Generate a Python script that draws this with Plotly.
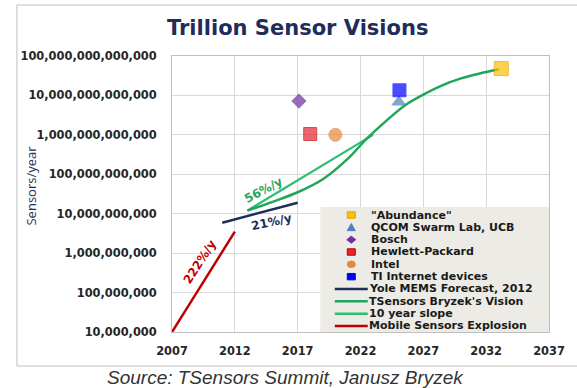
import math
import plotly.graph_objects as go

# ---------------- data ----------------
mobile_years = [2007, 2012]
mobile_vals = [1e7, 3.5e9]

yole_years = [2011, 2017]
yole_vals = [5.9e9, 1.9e10]

slope_years = [2013, 2023]
slope_vals = [1.2e10, 1.0e12]

vision_years = [2013.0, 2015.0, 2017.0, 2019.0, 2021.0, 2022.5, 2024.0, 2025.5,
                2027.0, 2028.5, 2030.0, 2031.5, 2033.0]
vision_vals = [1.2e10, 2.0e10, 3.5e10, 7.5e10, 2.5e11, 8.0e11, 2.2e12, 5.5e12,
               1.05e13, 1.8e13, 2.7e13, 3.6e13, 4.6e13]

point_names = ['"Abundance"', "QCOM Swarm Lab, UCB", "Bosch", "Hewlett-Packard",
               "Intel", "TI Internet devices"]
point_years = [2033.2, 2025.05, 2017.1, 2018.0, 2020.0, 2025.1]
point_vals = [4.8e13, 6.8e12, 7.2e12, 1.05e12, 1.0e12, 1.35e13]

line_names = ["Yole MEMS Forecast, 2012", "TSensors Bryzek's Vision",
              "10 year slope", "Mobile Sensors Explosion"]

x_ticks = [2007, 2012, 2017, 2022, 2027, 2032, 2037]
x_ticklabels = ["2007", "2012", "2017", "2022", "2027", "2032", "2037"]
y_ticks = [1e7, 1e8, 1e9, 1e10, 1e11, 1e12, 1e13, 1e14]
y_ticklabels = ["10,000,000", "100,000,000", "1,000,000,000", "10,000,000,000",
                "100,000,000,000", "1,000,000,000,000", "10,000,000,000,000",
                "100,000,000,000,000"]

rate_labels = ["56%/y", "21%/y", "222%/y"]
rate_years = [2014.3, 2014.9, 2009.2]
rate_vals = [4.0e10, 6.2e9, 6.0e8]

# ---------------- styles ----------------
point_colors = ["#FFC000", "#4F81BD", "#7030A0", "#E3262E", "#E8883A", "#0000FF"]
point_lines = ["#E0A000", "#4F81BD", "#7030A0", "#C00000", "#E8883A", "#0000FF"]
point_symbols = ["square", "triangle-up", "diamond", "square", "circle", "square"]
point_sizes = [14, 12, 11, 13, 13, 13]

NAVY = "#1F2D5A"
GREEN1 = "#1FA65A"
GREEN2 = "#2DBF74"
RED = "#C00000"
line_colors = [NAVY, GREEN1, GREEN2, RED]
rate_colors = [GREEN1, NAVY, RED]
rate_angles = [-28, -12, -57]

BOLD = dict(family="DejaVu Sans", weight="bold")

fig = go.Figure()
fig.add_trace(go.Scatter(x=mobile_years, y=mobile_vals, mode="lines",
                         line=dict(color=RED, width=2.5), name=line_names[3]))
fig.add_trace(go.Scatter(x=yole_years, y=yole_vals, mode="lines",
                         line=dict(color=NAVY, width=2.5), name=line_names[0]))
fig.add_trace(go.Scatter(x=slope_years, y=slope_vals, mode="lines",
                         line=dict(color=GREEN2, width=2.2), name=line_names[2]))
fig.add_trace(go.Scatter(x=vision_years, y=vision_vals, mode="lines",
                         line=dict(color=GREEN1, width=2.5, shape="spline", smoothing=1.0),
                         name=line_names[1]))
fig.add_trace(go.Scatter(x=point_years, y=point_vals, mode="markers",
                         marker=dict(color=point_colors, symbol=point_symbols,
                                     size=point_sizes,
                                     line=dict(color=point_lines, width=1)),
                         text=point_names))

# pixel -> paper helpers (layout only)
L, R, T, B = 172, 561, 56, 332
def px(v):
    return (v - L) / (R - L)
def py(v):
    return (B - v) / (B - T)

shapes = []
annotations = []

# outer frame
shapes.append(dict(type="rect", xref="paper", yref="paper", x0=px(12), x1=px(600),
                   y0=py(366), y1=py(5), line=dict(color="#BFBFBF", width=1),
                   fillcolor="rgba(0,0,0,0)", layer="below"))

# legend box
shapes.append(dict(type="rect", xref="paper", yref="paper", x0=px(325), x1=1.0,
                   y0=0.0, y1=py(207), line=dict(width=0), fillcolor="#EDEBE5",
                   layer="above"))

row0, rowstep = 215, 12.33
mx = px(357)
for i, name in enumerate(point_names):
    yy = py(row0 + rowstep * i)
    sym = point_symbols[i]
    base = dict(xref="paper", yref="paper", xsizemode="pixel", ysizemode="pixel",
                xanchor=mx, yanchor=yy, fillcolor=point_colors[i],
                line=dict(color=point_lines[i], width=1), layer="above")
    if sym == "square":
        shapes.append(dict(type="rect", x0=-4, x1=4, y0=-3.2, y1=3.2, **base))
    elif sym == "circle":
        shapes.append(dict(type="circle", x0=-4, x1=4, y0=-3.3, y1=3.3, **base))
    elif sym == "diamond":
        shapes.append(dict(type="path", path="M-4.5,0 L0,3.5 L4.5,0 L0,-3.5 Z", **base))
    elif sym == "triangle-up":
        shapes.append(dict(type="path", path="M-4,-3.3 L4,-3.3 L0,3.8 Z", **base))
    annotations.append(dict(xref="paper", yref="paper", x=px(375), y=yy, text=name,
                            showarrow=False, xanchor="left", yanchor="middle",
                            font=dict(size=11, color="#1A1A1A", **BOLD)))

for j, name in enumerate(line_names):
    yy = py(row0 + rowstep * (6 + j))
    shapes.append(dict(type="line", xref="paper", yref="paper", x0=px(340), x1=px(374),
                       y0=yy, y1=yy, line=dict(color=line_colors[j], width=2.5),
                       layer="above"))
    annotations.append(dict(xref="paper", yref="paper", x=px(373), y=yy, text=name,
                            showarrow=False, xanchor="left", yanchor="middle",
                            font=dict(size=11, color="#1A1A1A", **BOLD)))

# rate labels (data coords; log axis uses log10 units)
for lab, xv, yv, c, a in zip(rate_labels, rate_years, rate_vals, rate_colors, rate_angles):
    annotations.append(dict(x=xv, y=math.log10(yv), xref="x", yref="y", text=lab,
                            showarrow=False, textangle=a, xanchor="center",
                            yanchor="middle",
                            font=dict(size=12, color=c, **BOLD)))

# title, axis title, source
annotations.append(dict(xref="paper", yref="paper", x=px(301), y=py(28),
                        xanchor="center", yanchor="middle",
                        text="Trillion Sensor Visions", showarrow=False,
                        font=dict(size=21, color=NAVY, **BOLD)))
annotations.append(dict(xref="paper", yref="paper", x=px(26), y=py(186),
                        xanchor="center", yanchor="middle",
                        text="Sensors/year", showarrow=False, textangle=-90,
                        font=dict(size=13, color=NAVY, family="Open Sans")))
annotations.append(dict(xref="paper", yref="paper", x=px(289), y=py(377),
                        xanchor="center", yanchor="middle",
                        text="Source: TSensors Summit, Janusz Bryzek", showarrow=False,
                        font=dict(size=19, color="#333333", family="Liberation Sans",
                                  style="italic")))

tickfont = dict(size=11.4, color="#262626", **BOLD)
fig.update_layout(
    width=577, height=388,
    margin=dict(l=L, r=577 - R, t=T, b=388 - B),
    paper_bgcolor="white", plot_bgcolor="white",
    showlegend=False,
    shapes=shapes, annotations=annotations,
    xaxis=dict(range=[2007, 2037], tickvals=x_ticks, ticktext=x_ticklabels,
               showgrid=True, gridcolor="#D9D9D9", gridwidth=1,
               showline=True, linecolor="#BFBFBF", mirror=True, zeroline=False,
               tickfont=tickfont, ticks="", ticklabelstandoff=8),
    yaxis=dict(type="log", range=[7, 14], tickvals=y_ticks, ticktext=y_ticklabels,
               showgrid=True, gridcolor="#D9D9D9", gridwidth=1,
               showline=True, linecolor="#BFBFBF", mirror=True, zeroline=False,
               tickfont=tickfont, ticks="", ticklabelstandoff=12),
)

fig.write_html("out.html")
